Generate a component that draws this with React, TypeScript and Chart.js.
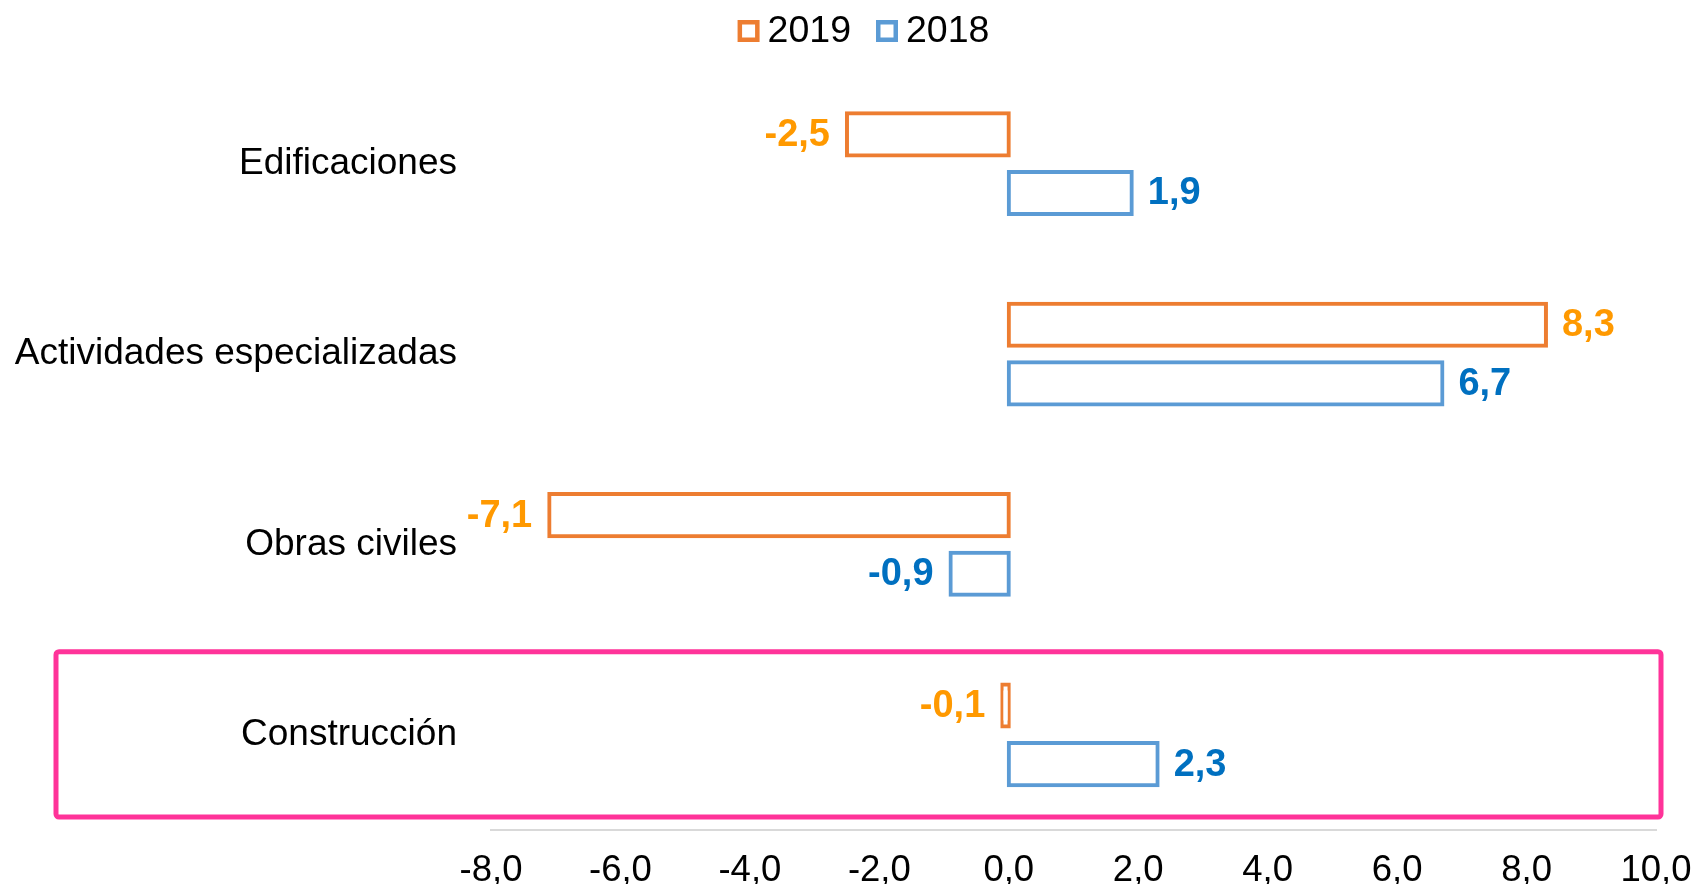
import { useEffect, useRef } from "react";
import { Chart, registerables } from "chart.js";

Chart.register(...registerables);

const categories = ["Edificaciones", "Actividades especializadas", "Obras civiles", "Construcción"];
const seriesNames = ["2019", "2018"];
const values2019 = [-2.5, 8.3, -7.1, -0.1];
const values2018 = [1.9, 6.7, -0.9, 2.3];
const xMin = -8;
const xMax = 10;
const xStep = 2;
const highlightedCategory = 3;

const FONT = "'Liberation Sans', Arial, Helvetica, sans-serif";
const barColors = ["#ED7D31", "#5B9BD5"];
const labelColors = ["#FF9900", "#0070C0"];

const fmt = (v: number) => v.toFixed(1).replace(".", ",");

const legendPlugin = {
  id: "customLegend",
  afterDraw(chart: any) {
    const ctx = chart.ctx;
    ctx.save();
    ctx.font = `37.5px ${FONT}`;
    const box = 22;
    const gapText = 8;
    const gapItem = 25;
    const items = chart.data.datasets.map((ds: any) => ({
      label: ds.label,
      color: ds.borderColor,
      w: ctx.measureText(ds.label).width,
    }));
    const total =
      items.reduce((s: number, it: any) => s + box + gapText + it.w, 0) + gapItem * (items.length - 1);
    let x = chart.width / 2 + 14 - total / 2;
    const cy = 23;
    items.forEach((it: any) => {
      ctx.fillStyle = "#FFFFFF";
      ctx.fillRect(x, cy - box / 2, box, box);
      ctx.lineWidth = 4.5;
      ctx.strokeStyle = it.color;
      ctx.strokeRect(x + 2.25, cy - box / 2 + 2.25, box - 4.5, box - 4.5);
      ctx.fillStyle = "#000000";
      ctx.textAlign = "left";
      ctx.textBaseline = "middle";
      ctx.fillText(it.label, x + box + gapText, cy + 1);
      x += box + gapText + it.w + gapItem;
    });
    ctx.restore();
  },
};

const dataLabelPlugin = {
  id: "dataLabels",
  afterDatasetsDraw(chart: any) {
    const ctx = chart.ctx;
    ctx.save();
    ctx.font = `bold 38px ${FONT}`;
    ctx.textBaseline = "middle";
    chart.data.datasets.forEach((ds: any, i: number) => {
      const meta = chart.getDatasetMeta(i);
      meta.data.forEach((el: any, j: number) => {
        const v = ds.data[j];
        const neg = v < 0;
        ctx.fillStyle = labelColors[i];
        ctx.textAlign = neg ? "right" : "left";
        ctx.fillText(fmt(v), el.x + (neg ? -17 : 16), el.y + 1);
      });
    });
    ctx.restore();
  },
};

const highlightPlugin = {
  id: "highlightBox",
  afterDraw(chart: any) {
    const ctx = chart.ctx;
    const ys = chart.scales.y;
    const xs = chart.scales.x;
    const c = ys.getPixelForValue(highlightedCategory);
    const band = ys.getPixelForValue(1) - ys.getPixelForValue(0);
    const top = c - band / 2 + 12;
    const bottom = c + band / 2 - 13;
    const left = 48;
    const right = xs.right + 5;
    ctx.save();
    ctx.strokeStyle = "#FF3399";
    ctx.lineWidth = 5;
    ctx.lineJoin = "round";
    ctx.beginPath();
    if (ctx.roundRect) {
      ctx.roundRect(left, top, right - left, bottom - top, 3);
    } else {
      ctx.rect(left, top, right - left, bottom - top);
    }
    ctx.stroke();
    ctx.restore();
  },
};

export default function App() {
  const canvasRef = useRef<HTMLCanvasElement | null>(null);

  useEffect(() => {
    if (!canvasRef.current) return;
    const common = {
      backgroundColor: "#FFFFFF",
      borderWidth: 4,
      borderSkipped: false,
      inflateAmount: 2,
      categoryPercentage: 0.616,
      barPercentage: 0.72,
    };
    const chart = new Chart(canvasRef.current, {
      type: "bar",
      data: {
        labels: categories,
        datasets: [
          { ...common, label: seriesNames[0], data: values2019, borderColor: barColors[0] },
          { ...common, label: seriesNames[1], data: values2018, borderColor: barColors[1] },
        ],
      } as any,
      options: {
        indexAxis: "y",
        animation: false,
        responsive: true,
        maintainAspectRatio: false,
        layout: { padding: { top: 60.5, right: 35, left: 0, bottom: 0 } },
        plugins: {
          legend: { display: false },
          tooltip: { enabled: false },
        },
        scales: {
          x: {
            min: xMin,
            max: xMax,
            ticks: {
              stepSize: xStep,
              callback: (v: any) => fmt(Number(v)),
              color: "#000000",
              font: { size: 36.5, family: FONT },
              padding: 19,
              maxRotation: 0,
              autoSkip: false,
            },
            grid: { display: false, drawTicks: false },
            border: { display: true, color: "#D9D9D9", width: 2 },
            afterFit: (s: any) => {
              s.height = 62;
              s.paddingRight = 35;
              s.paddingLeft = 0;
            },
          },
          y: {
            ticks: {
              color: "#000000",
              font: { size: 37, family: FONT },
              padding: 34,
            },
            grid: { display: false, drawTicks: false },
            border: { display: false },
            afterFit: (s: any) => {
              s.width = 483;
            },
          },
        },
      } as any,
      plugins: [dataLabelPlugin, highlightPlugin, legendPlugin],
    });
    return () => chart.destroy();
  }, []);

  return (
    <div style={{ width: "100%", height: 884, marginBottom: -8, position: "relative" }}>
      <canvas ref={canvasRef} />
    </div>
  );
}
